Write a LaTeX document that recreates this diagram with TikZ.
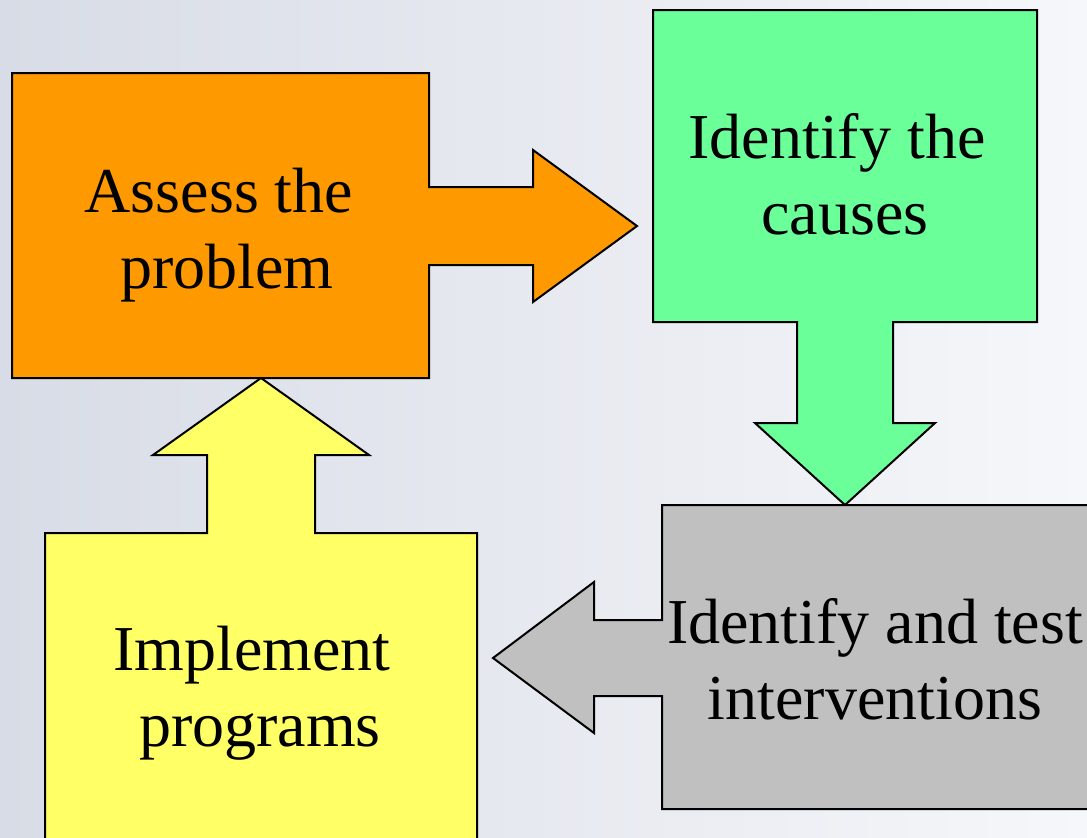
\documentclass[tikz,border=0pt]{standalone}
\usepackage{fontspec}
\setmainfont{Liberation Serif}
\usepackage{xcolor}
\definecolor{bgleft}{HTML}{D8DCE6}
\definecolor{bgright}{HTML}{F6F7FA}
\definecolor{stepone}{HTML}{FF9900}
\definecolor{steptwo}{HTML}{6BFF99}
\definecolor{stepthree}{HTML}{C0C0C0}
\definecolor{stepfour}{HTML}{FFFF66}
\usepackage{tikz}

\begin{document}
\begin{tikzpicture}[x=0.5pt,y=-0.5pt,line width=1pt,line join=miter]
              \tikzstyle{callout}=[draw=black]
              \tikzstyle{txt}=[align=center,inner sep=0pt,font=\fontsize{32}{38}\selectfont]

              \useasboundingbox (0,0) rectangle (1087,837);
              \clip (0,0) rectangle (1087,837);
              \shade[left color=bgleft,right color=bgright] (0,0) rectangle (1087,837);

              % assess
              \filldraw[callout,fill=stepone] (12,73) -- (429,73) -- (429,187) -- (533,187) -- (533,150)
                    -- (637,226) -- (533,302) -- (533,265) -- (429,265) -- (429,378) -- (12,378) -- cycle;
              % causes
              \filldraw[callout,fill=steptwo] (653,10) -- (1037,10) -- (1037,322) -- (893,322) -- (893,423)
                    -- (935,423) -- (845,505) -- (755,423) -- (797,423) -- (797,322) -- (653,322) -- cycle;
              % interventions
              \filldraw[callout,fill=stepthree] (662,505) -- (1100,505) -- (1100,809) -- (662,809) -- (662,696)
                    -- (594,696) -- (594,733) -- (493,658) -- (594,582) -- (594,620) -- (662,620) -- cycle;
              % programs
              \filldraw[callout,fill=stepfour] (45,860) -- (45,533) -- (207,533) -- (207,455) -- (153,455)
                    -- (261,378) -- (369,455) -- (315,455) -- (315,533) -- (477,533) -- (477,860);

              \node[txt] (A) at (227,235) {Assess the\hspace*{.25em}\\problem};
              \node[txt] (B) at (845,174) {Identify the\hspace*{.25em}\\causes};
              \node[txt] (C) at (875,659) {Identify and test\\interventions};
              \node[txt] (D) at (260,693) {Implement\hspace*{.25em}\\programs};

       \end{tikzpicture}
\end{document}
